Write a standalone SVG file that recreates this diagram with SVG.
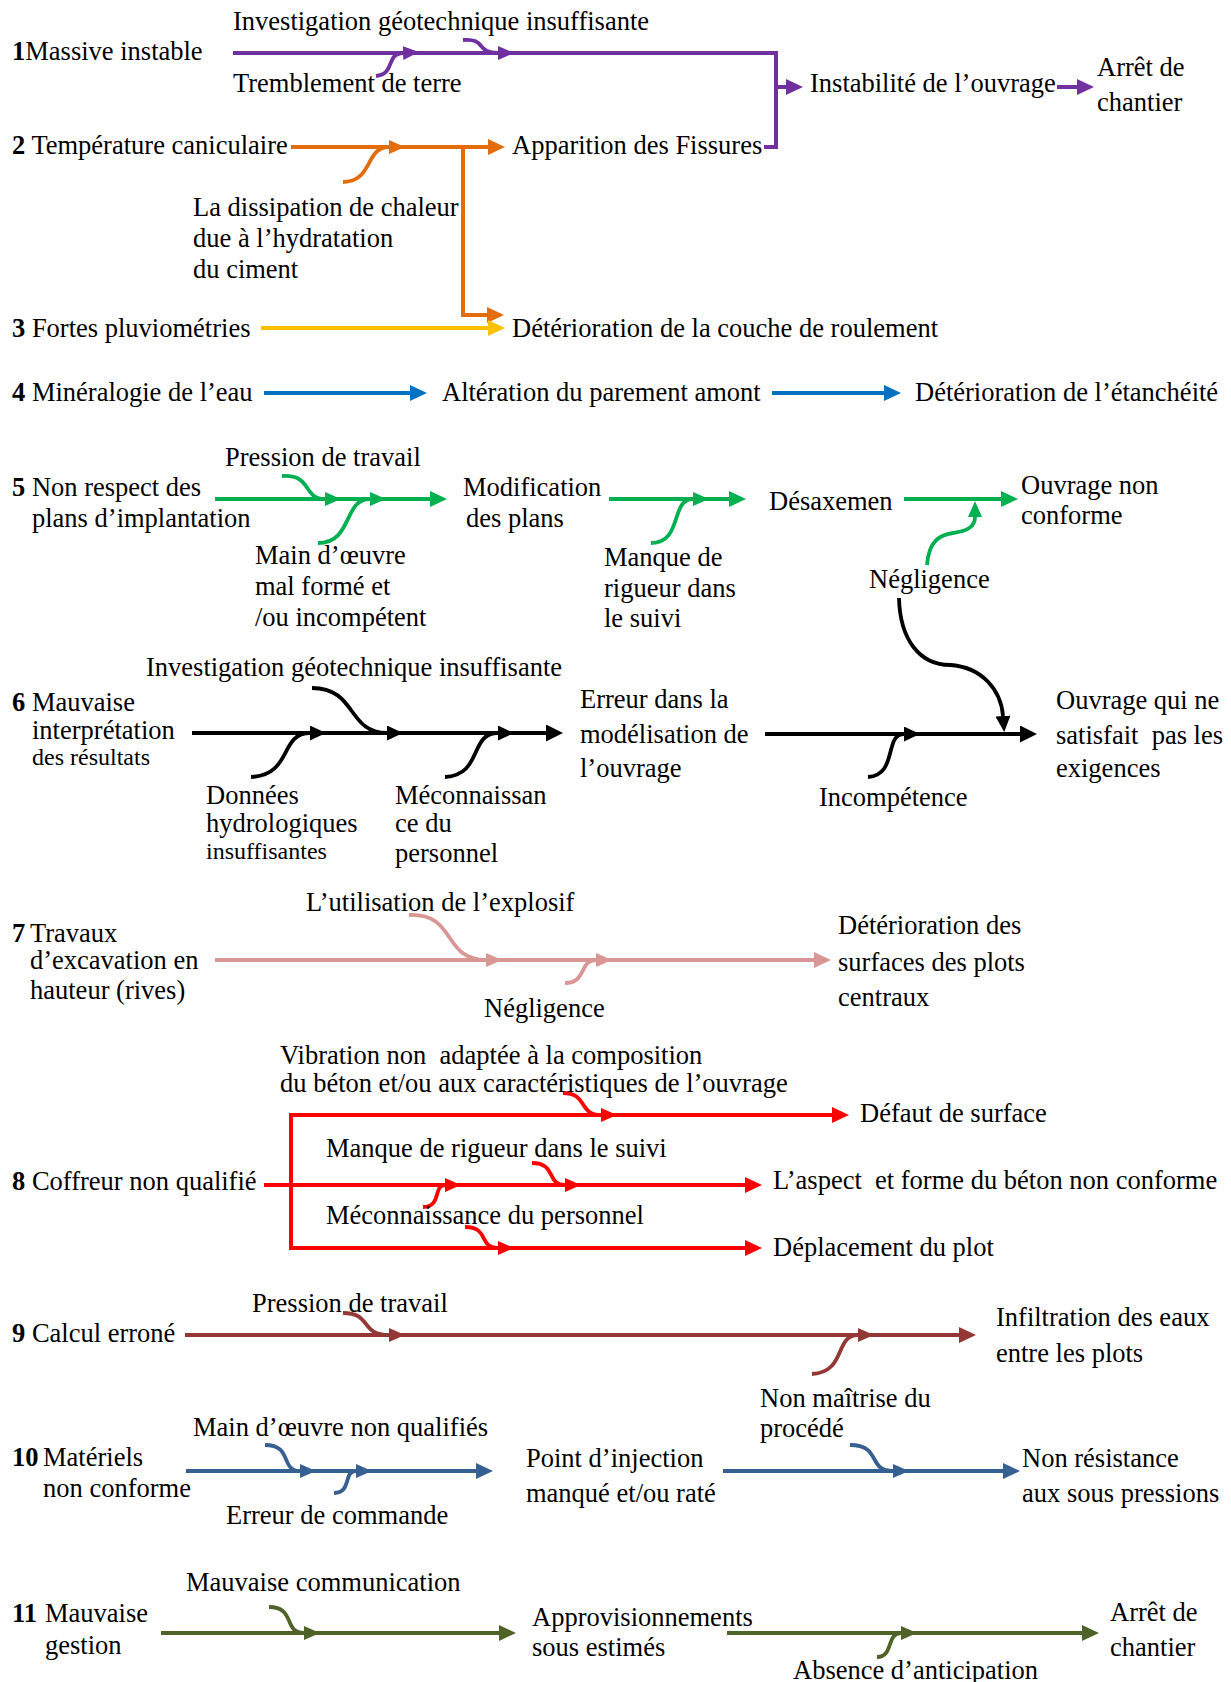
<svg xmlns="http://www.w3.org/2000/svg" width="1231" height="1682" viewBox="0 0 1231 1682">
<style>
text{font-family:"Liberation Serif","Times New Roman",serif;font-size:26.5px;fill:#000;white-space:pre}
.s{font-size:24px}
.b{font-weight:bold}
.ln{fill:none;stroke-width:4}
.cv{fill:none;stroke-width:3.8}
</style>
<defs>
<marker id="aPu" markerUnits="userSpaceOnUse" viewBox="0 0 17 16" markerWidth="17" markerHeight="16" refX="0" refY="8" orient="auto"><path d="M0,0L17,8L0,16z" fill="#7030A0"/></marker>
<marker id="sPu" markerUnits="userSpaceOnUse" viewBox="0 0 16 14" markerWidth="16" markerHeight="14" refX="0" refY="7" orient="auto"><path d="M0,0L16,7L0,14z" fill="#7030A0"/></marker>
<marker id="aOr" markerUnits="userSpaceOnUse" viewBox="0 0 17 16" markerWidth="17" markerHeight="16" refX="0" refY="8" orient="auto"><path d="M0,0L17,8L0,16z" fill="#E46C0A"/></marker>
<marker id="sOr" markerUnits="userSpaceOnUse" viewBox="0 0 16 14" markerWidth="16" markerHeight="14" refX="0" refY="7" orient="auto"><path d="M0,0L16,7L0,14z" fill="#E46C0A"/></marker>
<marker id="aYe" markerUnits="userSpaceOnUse" viewBox="0 0 17 16" markerWidth="17" markerHeight="16" refX="0" refY="8" orient="auto"><path d="M0,0L17,8L0,16z" fill="#FFC000"/></marker>
<marker id="aBl" markerUnits="userSpaceOnUse" viewBox="0 0 17 16" markerWidth="17" markerHeight="16" refX="0" refY="8" orient="auto"><path d="M0,0L17,8L0,16z" fill="#0070C0"/></marker>
<marker id="aGr" markerUnits="userSpaceOnUse" viewBox="0 0 17 16" markerWidth="17" markerHeight="16" refX="0" refY="8" orient="auto"><path d="M0,0L17,8L0,16z" fill="#00B050"/></marker>
<marker id="sGr" markerUnits="userSpaceOnUse" viewBox="0 0 16 14" markerWidth="16" markerHeight="14" refX="0" refY="7" orient="auto"><path d="M0,0L16,7L0,14z" fill="#00B050"/></marker>
<marker id="aBk" markerUnits="userSpaceOnUse" viewBox="0 0 17 17" markerWidth="17" markerHeight="17" refX="0" refY="8.5" orient="auto"><path d="M0,0L17,8.5L0,17z" fill="#000"/></marker>
<marker id="sBk" markerUnits="userSpaceOnUse" viewBox="0 0 16 15" markerWidth="16" markerHeight="15" refX="0" refY="7.5" orient="auto"><path d="M0,0L16,7.5L0,15z" fill="#000"/></marker>
<marker id="aPk" markerUnits="userSpaceOnUse" viewBox="0 0 17 16" markerWidth="17" markerHeight="16" refX="0" refY="8" orient="auto"><path d="M0,0L17,8L0,16z" fill="#D99694"/></marker>
<marker id="sPk" markerUnits="userSpaceOnUse" viewBox="0 0 16 14" markerWidth="16" markerHeight="14" refX="0" refY="7" orient="auto"><path d="M0,0L16,7L0,14z" fill="#D99694"/></marker>
<marker id="aRe" markerUnits="userSpaceOnUse" viewBox="0 0 17 16" markerWidth="17" markerHeight="16" refX="0" refY="8" orient="auto"><path d="M0,0L17,8L0,16z" fill="#FF0000"/></marker>
<marker id="sRe" markerUnits="userSpaceOnUse" viewBox="0 0 16 14" markerWidth="16" markerHeight="14" refX="0" refY="7" orient="auto"><path d="M0,0L16,7L0,14z" fill="#FF0000"/></marker>
<marker id="aDr" markerUnits="userSpaceOnUse" viewBox="0 0 17 16" markerWidth="17" markerHeight="16" refX="0" refY="8" orient="auto"><path d="M0,0L17,8L0,16z" fill="#953735"/></marker>
<marker id="sDr" markerUnits="userSpaceOnUse" viewBox="0 0 16 14" markerWidth="16" markerHeight="14" refX="0" refY="7" orient="auto"><path d="M0,0L16,7L0,14z" fill="#953735"/></marker>
<marker id="aSb" markerUnits="userSpaceOnUse" viewBox="0 0 17 16" markerWidth="17" markerHeight="16" refX="0" refY="8" orient="auto"><path d="M0,0L17,8L0,16z" fill="#376092"/></marker>
<marker id="sSb" markerUnits="userSpaceOnUse" viewBox="0 0 16 14" markerWidth="16" markerHeight="14" refX="0" refY="7" orient="auto"><path d="M0,0L16,7L0,14z" fill="#376092"/></marker>
<marker id="aOl" markerUnits="userSpaceOnUse" viewBox="0 0 17 16" markerWidth="17" markerHeight="16" refX="0" refY="8" orient="auto"><path d="M0,0L17,8L0,16z" fill="#4F6228"/></marker>
<marker id="sOl" markerUnits="userSpaceOnUse" viewBox="0 0 16 14" markerWidth="16" markerHeight="14" refX="0" refY="7" orient="auto"><path d="M0,0L16,7L0,14z" fill="#4F6228"/></marker>
</defs>

<g id="connectors">
<!-- row 1 purple -->
<g stroke="#7030A0">
<path class="ln" d="M233,53H776V147H764"/>
<path class="ln" d="M776,87H786" marker-end="url(#aPu)"/>
<path class="ln" d="M1057,87H1077" marker-end="url(#aPu)"/>
<path class="cv" d="M463,40C487,38 475,53 498,53" marker-end="url(#sPu)"/>
<path class="cv" d="M376,76C396,74 385,54 403,53" marker-end="url(#sPu)"/>
</g>
<!-- row 2 orange -->
<g stroke="#E46C0A">
<path class="ln" d="M291,147H488" marker-end="url(#aOr)"/>
<path class="ln" d="M463,147V315H487" marker-end="url(#aOr)"/>
<path class="cv" d="M343,182C373,182 365,147 389,147" marker-end="url(#sOr)"/>
</g>
<!-- row 3 yellow -->
<path class="ln" stroke="#FFC000" d="M261,328H488" marker-end="url(#aYe)"/>
<!-- row 4 blue -->
<g stroke="#0070C0">
<path class="ln" d="M264,393H410" marker-end="url(#aBl)"/>
<path class="ln" d="M772,393H884" marker-end="url(#aBl)"/>
</g>
<!-- row 5 green -->
<g stroke="#00B050">
<path class="ln" d="M215,499H430" marker-end="url(#aGr)"/>
<path class="ln" d="M609,499H729" marker-end="url(#aGr)"/>
<path class="ln" d="M904,499H1001" marker-end="url(#aGr)"/>
<path class="cv" d="M282,476C313,474 302,499 325,499" marker-end="url(#sGr)"/>
<path class="cv" d="M318,543C353,543 343,499 370,499" marker-end="url(#sGr)"/>
<path class="cv" d="M651,543C683,543 670,499 693,499" marker-end="url(#sGr)"/>
<path class="cv" d="M927,565C929,540 940,535 953,533C967,531 975,527 975,517" marker-end="url(#sGr)"/>
</g>
<!-- row 6 black -->
<g stroke="#000">
<path class="ln" stroke-width="5" d="M192,733H546" marker-end="url(#aBk)"/>
<path class="ln" stroke-width="5" d="M765,734H1020" marker-end="url(#aBk)"/>
<path class="cv" d="M312,688C357,688 347,733 387,733" marker-end="url(#sBk)"/>
<path class="cv" d="M251,777C293,775 279,733 310,733" marker-end="url(#sBk)"/>
<path class="cv" d="M445,777C483,775 469,733 498,733" marker-end="url(#sBk)"/>
<path class="cv" d="M868,777C898,775 884,734 904,734" marker-end="url(#sBk)"/>
<path class="cv" d="M899,598C900,640 920,665 950,665C982,667 1001,690 1003,716" marker-end="url(#sBk)"/>
</g>
<!-- row 7 pink -->
<g stroke="#D99694">
<path class="ln" d="M215,960H814" marker-end="url(#aPk)"/>
<path class="cv" d="M409,915C457,913 442,960 486,960" marker-end="url(#sPk)"/>
<path class="cv" d="M565,983C587,983 579,960 596,960" marker-end="url(#sPk)"/>
</g>
<!-- row 8 red -->
<g stroke="#FF0000">
<path class="ln" d="M291,1115V1248"/>
<path class="ln" d="M289,1115H832" marker-end="url(#aRe)"/>
<path class="ln" d="M264,1185H745" marker-end="url(#aRe)"/>
<path class="ln" d="M289,1248H745" marker-end="url(#aRe)"/>
<path class="cv" d="M563,1093C588,1093 578,1115 601,1115" marker-end="url(#sRe)"/>
<path class="cv" d="M532,1163C557,1163 546,1185 565,1185" marker-end="url(#sRe)"/>
<path class="cv" d="M423,1207C442,1207 433,1185 445,1185" marker-end="url(#sRe)"/>
<path class="cv" d="M465,1227C490,1227 478,1248 498,1248" marker-end="url(#sRe)"/>
</g>
<!-- row 9 dark red -->
<g stroke="#953735">
<path class="ln" d="M185,1335H959" marker-end="url(#aDr)"/>
<path class="cv" d="M343,1313C372,1313 360,1335 389,1335" marker-end="url(#sDr)"/>
<path class="cv" d="M812,1374C847,1372 834,1335 858,1335" marker-end="url(#sDr)"/>
</g>
<!-- row 10 steel blue -->
<g stroke="#376092">
<path class="ln" d="M186,1471H476" marker-end="url(#aSb)"/>
<path class="ln" d="M723,1471H1003" marker-end="url(#aSb)"/>
<path class="cv" d="M265,1445C293,1445 280,1471 300,1471" marker-end="url(#sSb)"/>
<path class="cv" d="M334,1493C352,1493 343,1471 356,1471" marker-end="url(#sSb)"/>
<path class="cv" d="M850,1445C882,1445 867,1471 893,1471" marker-end="url(#sSb)"/>
</g>
<!-- row 11 olive -->
<g stroke="#4F6228">
<path class="ln" d="M161,1633H499" marker-end="url(#aOl)"/>
<path class="ln" d="M727,1633H1082" marker-end="url(#aOl)"/>
<path class="cv" d="M269,1607C296,1607 283,1633 304,1633" marker-end="url(#sOl)"/>
<path class="cv" d="M877,1657C894,1657 886,1633 901,1633" marker-end="url(#sOl)"/>
</g>
</g>

<!-- Row 1 -->
<g id="n1-cause"><text x="12" y="60"><tspan class="b">1</tspan>Massive instable</text></g>
<g id="n1-inv"><text x="233" y="30">Investigation géotechnique insuffisante</text></g>
<g id="n1-trem"><text x="233" y="92">Tremblement de terre</text></g>
<g id="n1-inst"><text x="810" y="92">Instabilité de l’ouvrage</text></g>
<g id="n1-arret"><text x="1097" y="76">Arrêt de</text><text x="1097" y="111">chantier</text></g>

<!-- Row 2 -->
<g id="n2-cause"><text x="12" y="154"><tspan class="b">2</tspan> Température caniculaire</text></g>
<g id="n2-fiss"><text x="512" y="154">Apparition des Fissures</text></g>
<g id="n2-diss"><text x="193" y="216">La dissipation de chaleur</text><text x="193" y="247">due à l’hydratation</text><text x="193" y="278">du ciment</text></g>

<!-- Row 3 -->
<g id="n3-cause"><text x="12" y="337"><tspan class="b">3</tspan> Fortes pluviométries</text></g>
<g id="n3-det"><text x="512" y="337">Détérioration de la couche de roulement</text></g>

<!-- Row 4 -->
<g id="n4-cause"><text x="12" y="401"><tspan class="b">4</tspan> Minéralogie de l’eau</text></g>
<g id="n4-alt"><text x="442" y="401">Altération du parement amont</text></g>
<g id="n4-det"><text x="915" y="401">Détérioration de l’étanchéité</text></g>

<!-- Row 5 -->
<g id="n5-cause"><text x="12" y="496"><tspan class="b">5</tspan> Non respect des</text><text x="32" y="527">plans d’implantation</text></g>
<g id="n5-press"><text x="225" y="466">Pression de travail</text></g>
<g id="n5-main"><text x="255" y="564">Main d’œuvre</text><text x="255" y="595">mal formé et</text><text x="255" y="626">/ou incompétent</text></g>
<g id="n5-modif"><text x="463" y="496">Modification</text><text x="466" y="527">des plans</text></g>
<g id="n5-manque"><text x="604" y="566">Manque de</text><text x="604" y="597">rigueur dans</text><text x="604" y="627">le suivi</text></g>
<g id="n5-desax"><text x="769" y="510">Désaxemen</text></g>
<g id="n5-negl"><text x="869" y="588">Négligence</text></g>
<g id="n5-ouvr"><text x="1021" y="494">Ouvrage non</text><text x="1021" y="524">conforme</text></g>

<!-- Row 6 -->
<g id="n6-cause"><text x="12" y="711"><tspan class="b">6</tspan> Mauvaise</text><text x="32" y="739">interprétation</text><text class="s" x="32" y="765">des résultats</text></g>
<g id="n6-inv"><text x="146" y="676">Investigation géotechnique insuffisante</text></g>
<g id="n6-donn"><text x="206" y="804">Données</text><text x="206" y="832">hydrologiques</text><text class="s" x="206" y="859">insuffisantes</text></g>
<g id="n6-meco"><text x="395" y="804">Méconnaissan</text><text x="395" y="832">ce du</text><text x="395" y="862">personnel</text></g>
<g id="n6-err"><text x="580" y="708">Erreur dans la</text><text x="580" y="743">modélisation de</text><text x="580" y="777">l’ouvrage</text></g>
<g id="n6-incomp"><text x="819" y="806">Incompétence</text></g>
<g id="n6-ouvr"><text x="1056" y="709">Ouvrage qui ne</text><text x="1056" y="744">satisfait  pas les</text><text x="1056" y="777">exigences</text></g>

<!-- Row 7 -->
<g id="n7-cause"><text x="12" y="942"><tspan class="b">7</tspan><tspan x="30">Travaux</tspan></text><text x="30" y="969">d’excavation en</text><text x="30" y="999">hauteur (rives)</text></g>
<g id="n7-expl"><text x="306" y="911">L’utilisation de l’explosif</text></g>
<g id="n7-negl"><text x="484" y="1017">Négligence</text></g>
<g id="n7-det"><text x="838" y="934">Détérioration des</text><text x="838" y="971">surfaces des plots</text><text x="838" y="1006">centraux</text></g>

<!-- Row 8 -->
<g id="n8-cause"><text x="12" y="1190"><tspan class="b">8</tspan> Coffreur non qualifié</text></g>
<g id="n8-vib"><text x="280" y="1064">Vibration non  adaptée à la composition</text><text x="280" y="1092">du béton et/ou aux caractéristiques de l’ouvrage</text></g>
<g id="n8-manque"><text x="326" y="1157">Manque de rigueur dans le suivi</text></g>
<g id="n8-meco"><text x="326" y="1224">Méconnaissance du personnel</text></g>
<g id="n8-def"><text x="860" y="1122">Défaut de surface</text></g>
<g id="n8-asp"><text x="773" y="1189">L’aspect  et forme du béton non conforme</text></g>
<g id="n8-depl"><text x="773" y="1256">Déplacement du plot</text></g>

<!-- Row 9 -->
<g id="n9-cause"><text x="12" y="1342"><tspan class="b">9</tspan> Calcul erroné</text></g>
<g id="n9-press"><text x="252" y="1312">Pression de travail</text></g>
<g id="n9-infil"><text x="996" y="1326">Infiltration des eaux</text><text x="996" y="1362">entre les plots</text></g>
<g id="n9-maitr"><text x="760" y="1407">Non maîtrise du</text><text x="760" y="1437">procédé</text></g>

<!-- Row 10 -->
<g id="n10-cause"><text x="12" y="1466"><tspan class="b">10</tspan><tspan x="43">Matériels</tspan></text><text x="43" y="1497">non conforme</text></g>
<g id="n10-main"><text x="193" y="1436">Main d’œuvre non qualifiés</text></g>
<g id="n10-err"><text x="226" y="1524">Erreur de commande</text></g>
<g id="n10-point"><text x="526" y="1467">Point d’injection</text><text x="526" y="1502">manqué et/ou raté</text></g>
<g id="n10-nonres"><text x="1022" y="1467">Non résistance</text><text x="1022" y="1502">aux sous pressions</text></g>

<!-- Row 11 -->
<g id="n11-cause"><text x="12" y="1622"><tspan class="b">11</tspan><tspan x="45">Mauvaise</tspan></text><text x="45" y="1654">gestion</text></g>
<g id="n11-comm"><text x="186" y="1591">Mauvaise communication</text></g>
<g id="n11-appro"><text x="532" y="1626">Approvisionnements</text><text x="532" y="1656">sous estimés</text></g>
<g id="n11-abs"><text x="793" y="1679">Absence d’anticipation</text></g>
<g id="n11-arret"><text x="1110" y="1621">Arrêt de</text><text x="1110" y="1656">chantier</text></g>
</svg>
